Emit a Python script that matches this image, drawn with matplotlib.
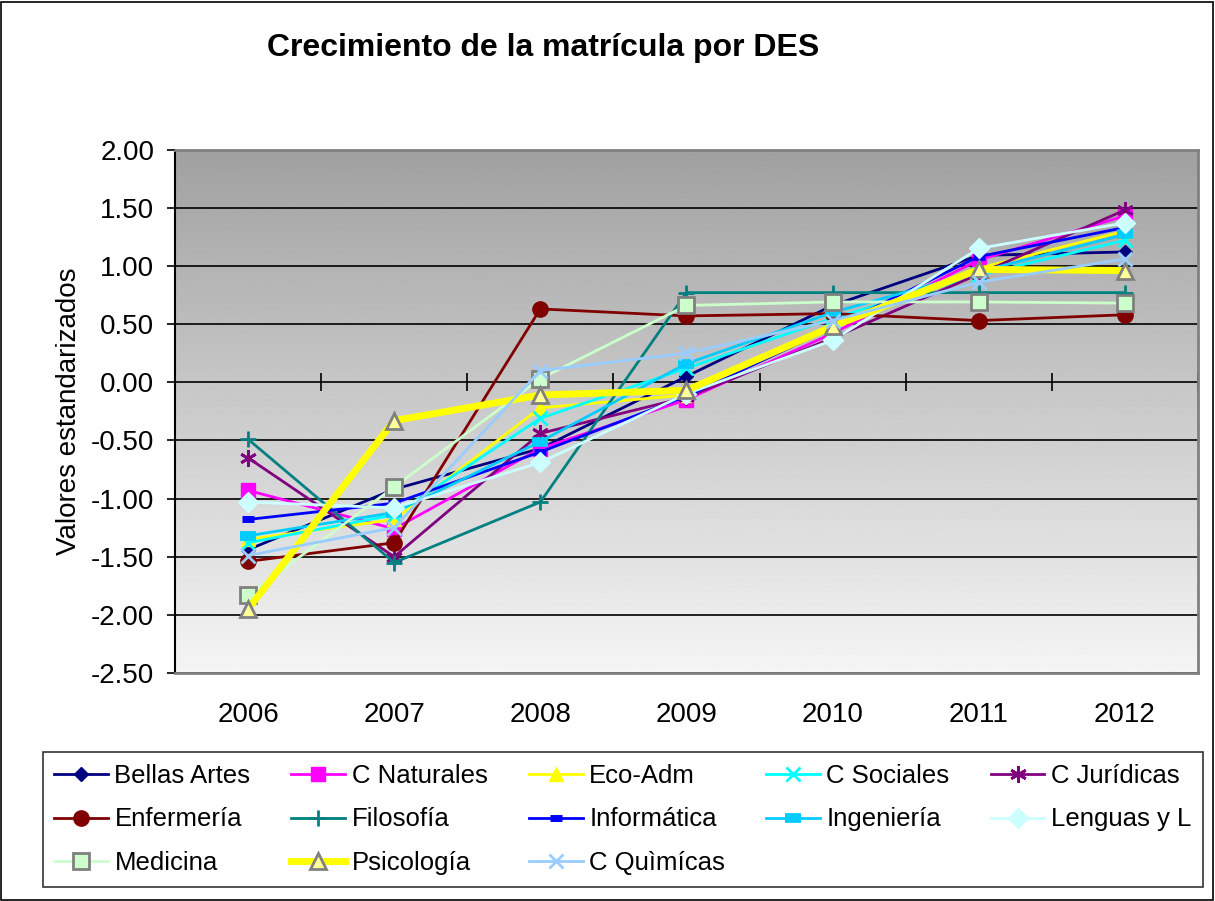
import numpy as np
import matplotlib
matplotlib.use('Agg')
import matplotlib.pyplot as plt
from matplotlib.patches import Rectangle

plt.rcParams['font.family'] = ['Liberation Sans', 'DejaVu Sans']

years = ['2006', '2007', '2008', '2009', '2010', '2011', '2012']

bellas_artes = [-1.44, -0.92, -0.57, 0.05, 0.66, 1.09, 1.12]
c_naturales = [-0.93, -1.26, -0.57, -0.15, 0.42, 1.05, 1.43]
eco_adm = [-1.35, -1.18, -0.22, -0.11, 0.50, 0.98, 1.30]
c_sociales = [-1.38, -1.14, -0.31, 0.12, 0.55, 0.92, 1.22]
c_juridicas = [-0.65, -1.50, -0.44, -0.13, 0.38, 0.93, 1.48]
enfermeria = [-1.54, -1.38, 0.63, 0.57, 0.59, 0.53, 0.58]
filosofia = [-0.49, -1.55, -1.03, 0.77, 0.77, 0.77, 0.77]
informatica = [-1.18, -1.04, -0.60, -0.12, 0.47, 1.08, 1.33]
ingenieria = [-1.32, -1.12, -0.51, 0.16, 0.60, 0.95, 1.27]
lenguas = [-1.03, -1.08, -0.69, -0.10, 0.36, 1.15, 1.37]
medicina = [-1.83, -0.90, 0.03, 0.66, 0.69, 0.69, 0.68]
psicologia = [-1.95, -0.33, -0.11, -0.07, 0.48, 0.97, 0.96]
c_quimicas = [-1.49, -1.25, 0.10, 0.25, 0.53, 0.86, 1.06]

names = ['Bellas Artes', 'C Naturales', 'Eco-Adm', 'C Sociales', 'C Jurídicas',
         'Enfermería', 'Filosofía', 'Informática', 'Ingeniería', 'Lenguas y L',
         'Medicina', 'Psicología', 'C Quìmícas']
series = [bellas_artes, c_naturales, eco_adm, c_sociales, c_juridicas,
          enfermeria, filosofia, informatica, ingenieria, lenguas,
          medicina, psicologia, c_quimicas]

# colour, marker, marker face, marker edge, line width, marker size
styles = [
    ('#000080', 'D', '#000080', '#000080', 2.0, 7.5),
    ('#FF00FF', 's', '#FF00FF', '#FF00FF', 2.0, 10),
    ('#FFFF00', '^', '#FFFF00', '#FFFF00', 2.0, 10),
    ('#00FFFF', 'x', '#00FFFF', '#00FFFF', 2.0, 10),
    ('#800080', (6, 2, 0), '#800080', '#800080', 2.0, 12),
    ('#800000', 'o', '#800000', '#800000', 2.0, 11),
    ('#008080', '+', '#008080', '#008080', 2.0, 12),
    ('#0000FF', '_', '#0000FF', '#0000FF', 2.0, 9),
    ('#00CCFF', '_', '#00CCFF', '#00CCFF', 2.0, 12),
    ('#CCFFFF', 'D', '#CCFFFF', '#CCFFFF', 2.0, 10),
    ('#CCFFCC', 's', '#CCFFCC', '#808080', 2.0, 11),
    ('#FFFF00', '^', '#FFFF99', '#808080', 5.0, 11),
    ('#99CCFF', 'x', '#99CCFF', '#99CCFF', 2.0, 10),
]

fig = plt.figure(figsize=(12.15, 9.01), dpi=100)
ax = fig.add_axes([0.144, 0.253, 0.842, 0.581])

x = np.arange(len(years))

# gradient background of the plot area (dark top, light bottom)
grad = np.linspace(0.63, 0.96, 256).reshape(-1, 1)
ax.imshow(grad, cmap='gray', vmin=0, vmax=1, extent=[0, 1, 0, 1],
          transform=ax.transAxes, aspect='auto', zorder=0)

for yv in np.arange(-2.5, 2.01, 0.5):
    ax.axhline(yv, color='black', lw=1.2, zorder=1)

handles = []
for vals, name, st in zip(series, names, styles):
    col, mk, mfc, mec, lw, ms = st
    if mk == '_':
        mw = 5 if name == 'Informática' else 7
    elif mk in ('x', '+', (6, 2, 0)) or mec == '#808080':
        mw = 2
    else:
        mw = 1
    h, = ax.plot(x, vals, color=col, lw=lw, marker=mk, ms=ms, mfc=mfc, mec=mec,
                 mew=mw, zorder=3, label=name)
    handles.append(h)

ax.set_xlim(-0.5, 6.5)
ax.set_ylim(-2.5, 2.0)
ax.set_yticks(np.arange(-2.5, 2.01, 0.5))
ax.set_yticklabels(['%.2f' % v for v in np.arange(-2.5, 2.01, 0.5)])
ax.set_xticks(x)
ax.set_xticklabels(years)
ax.tick_params(axis='x', length=0, labelsize=20, pad=21)
ax.tick_params(axis='y', length=6, width=1.2, labelsize=20, direction='out', pad=9)

for s in ['top', 'right', 'bottom']:
    ax.spines[s].set_color('#808080')
    ax.spines[s].set_linewidth(2)
ax.spines['left'].set_color('black')
ax.spines['left'].set_linewidth(1.5)

# category axis crossing at zero
sec = ax.secondary_xaxis(2.5 / 4.5)
sec.set_xticks(np.arange(-0.5, 6.6, 1.0))
sec.set_xticklabels([])
sec.tick_params(direction='inout', length=13, width=1.2, color='black')
sec.spines['bottom'].set_visible(False)
sec.spines['top'].set_visible(False)

ax.set_ylabel('Valores estandarizados', fontsize=20, labelpad=6)

fig.text(0.447, 0.947, 'Crecimiento de la matrícula por DES', fontsize=23,
         fontweight='bold', ha='center', va='center')

order = [0, 5, 10, 1, 6, 11, 2, 7, 12, 3, 8, 4, 9]
leg = fig.legend([handles[i] for i in order], [names[i] for i in order],
                 ncol=5, loc='lower left', bbox_to_anchor=(0.035, 0.016, 0.955, 0.143),
                 mode='expand', fontsize=18.5, frameon=True, fancybox=False,
                 edgecolor='black', handlelength=2.1, handletextpad=0.25,
                 borderaxespad=0, labelspacing=0.76, columnspacing=0.6,
                 borderpad=0.45)
leg.get_frame().set_linewidth(1.2)

fig.patches.append(Rectangle((0.001, 0.001), 0.997, 0.997, transform=fig.transFigure,
                             fill=False, edgecolor='black', lw=1.2))

fig.savefig('out.png', dpi=100)
